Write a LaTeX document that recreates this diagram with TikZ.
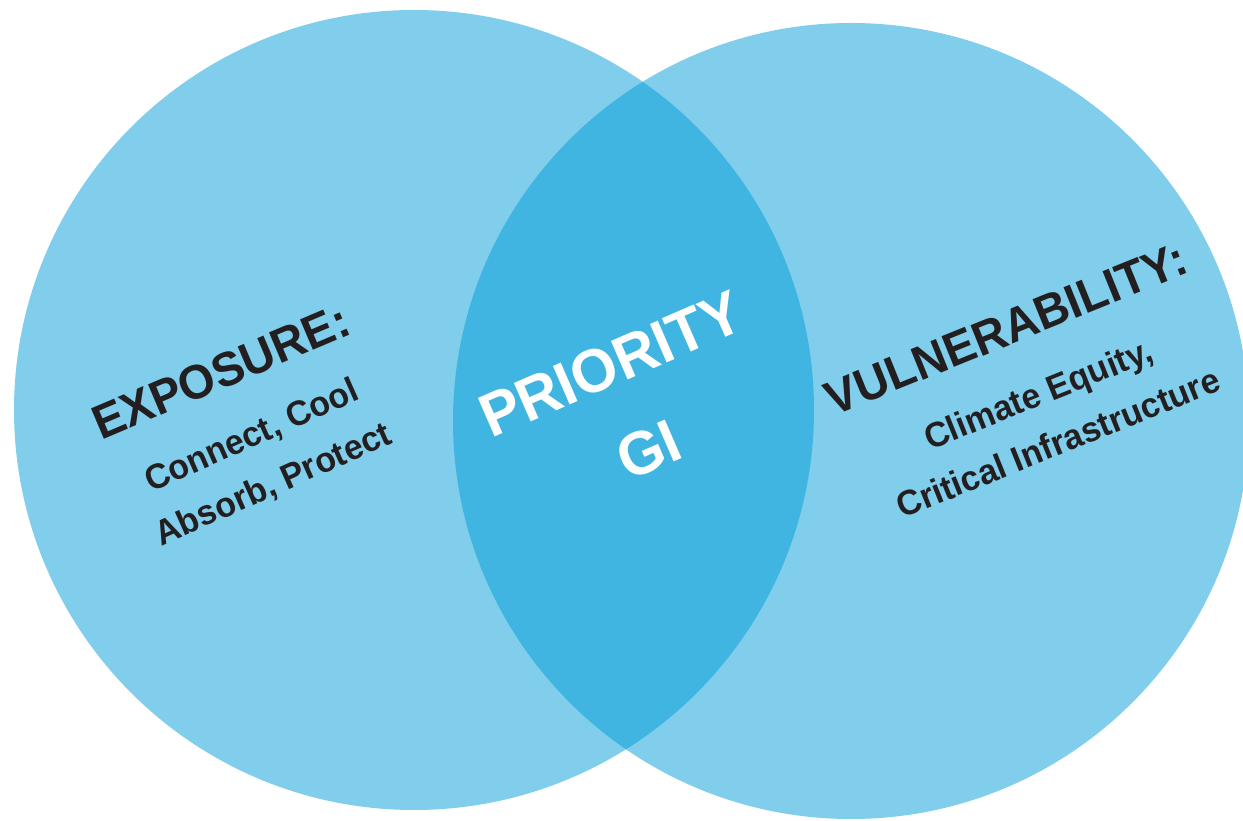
\documentclass[tikz,border=0pt]{standalone}
\usepackage{fontspec}
\setmainfont{Liberation Sans}
\definecolor{venlight}{HTML}{80CDEC}
\definecolor{vendark}{HTML}{41B5E1}
\definecolor{ventext}{HTML}{231F20}

\begin{document}
\begin{tikzpicture}[x=1pt, y=1pt,
    title/.style={font=\fontsize{48}{50}\selectfont\bfseries, text=ventext, inner sep=0pt},
    sub/.style={font=\fontsize{35}{53}\selectfont\bfseries, text=ventext, align=center, inner sep=0pt},
    middle/.style={font=\fontsize{61}{94}\selectfont\bfseries, text=white, align=center, inner sep=0pt}]
    \useasboundingbox (0,0) rectangle (1243,820);

    \coordinate (Exp) at (414,410);
    \coordinate (Vul) at (851,399);

    \fill[venlight] (Exp) circle (400);
    \fill[venlight] (Vul) circle (398);
    \begin{scope}
      \clip (Exp) circle (400);
      \fill[vendark] (Vul) circle (398);
    \end{scope}

    \node[title, rotate=23, xscale=0.97] (ExpT) at (221,448) {EXPOSURE:};
    \node[sub, rotate=24, xscale=0.97] (ExpS) at (263,359) {Connect, Cool\\Absorb, Protect};

    \node[middle, rotate=23.5, xscale=0.97] (GI) at (630,413) {PRIORITY\\GI};

    \node[title, rotate=22, xscale=0.97] (VulT) at (1006,491) {VULNERABILITY:};
    \node[sub, rotate=22, xscale=0.97] (VulS) at (1048,402) {Climate Equity,\\Critical Infrastructure};
\end{tikzpicture}
\end{document}
